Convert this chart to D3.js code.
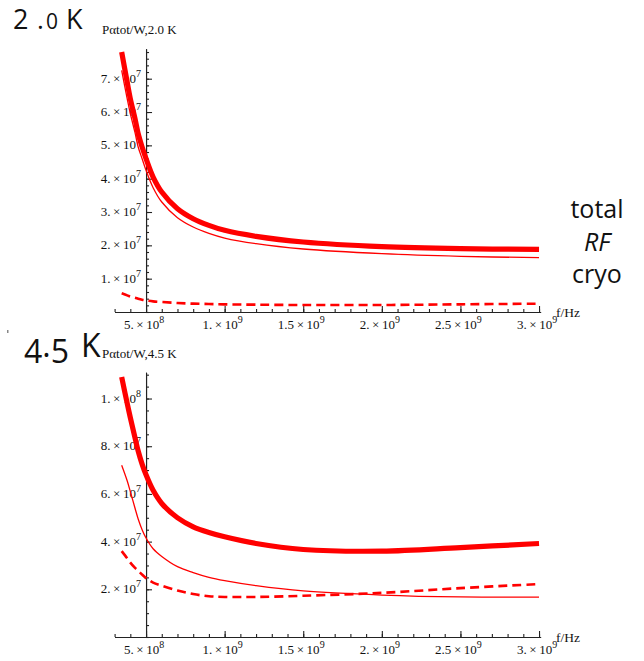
<!DOCTYPE html>
<html><head><meta charset="utf-8">
<script src="https://cdn.jsdelivr.net/npm/d3@7"></script>
<style>body{margin:0;background:#fff}svg{display:block}</style>
</head><body>
<svg id="c" width="644" height="661"></svg>
<script>
// ---------- data ----------
const freq    = [3.45e8, 3.8e8, 4.0e8, 4.3e8, 4.5e8, 4.75e8, 5.0e8, 5.45e8, 6.0e8, 7.0e8, 8.0e8, 9.0e8, 1.0e9, 1.2e9, 1.5e9, 2.0e9, 2.5e9, 3.0e9];
// 2.0 K
const total20 = [7.8e7, 6.9e7, 6.4e7, 5.8e7, 5.35e7, 4.95e7, 4.6e7, 4.05e7, 3.6e7, 3.1e7, 2.8e7, 2.6e7, 2.45e7, 2.27e7, 2.1e7, 1.96e7, 1.9e7, 1.88e7];
const rf20    = [7.25e7, 6.4e7, 5.95e7, 5.38e7, 4.95e7, 4.6e7, 4.25e7, 3.73e7, 3.3e7, 2.83e7, 2.55e7, 2.36e7, 2.22e7, 2.05e7, 1.89e7, 1.75e7, 1.67e7, 1.63e7];
const cryo20  = [5.6e6, 5.0e6, 4.6e6, 4.3e6, 4.0e6, 3.7e6, 3.5e6, 3.2e6, 3.0e6, 2.7e6, 2.5e6, 2.4e6, 2.3e6, 2.2e6, 2.1e6, 2.1e6, 2.3e6, 2.5e6];
// 4.5 K
const total45 = [1.09e8, 9.8e7, 9.2e7, 8.35e7, 7.8e7, 7.25e7, 6.8e7, 6.15e7, 5.6e7, 5.0e7, 4.62e7, 4.38e7, 4.2e7, 3.92e7, 3.67e7, 3.6e7, 3.75e7, 3.92e7];
const rf45    = [7.2e7, 6.55e7, 6.1e7, 5.4e7, 4.95e7, 4.5e7, 4.15e7, 3.7e7, 3.38e7, 2.95e7, 2.7e7, 2.5e7, 2.36e7, 2.15e7, 1.93e7, 1.76e7, 1.68e7, 1.67e7];
const cryo45  = [3.6e7, 3.3e7, 3.12e7, 2.9e7, 2.78e7, 2.62e7, 2.47e7, 2.28e7, 2.15e7, 1.95e7, 1.8e7, 1.71e7, 1.68e7, 1.68e7, 1.73e7, 1.85e7, 2.05e7, 2.22e7];

// tick labels
const xTickValues = [5e8, 1e9, 1.5e9, 2e9, 2.5e9, 3e9];
const xTickMant   = ["5.", "1.", "1.5", "2.", "2.5", "3."];
const xTickExp    = ["8", "9", "9", "9", "9", "9"];
const yTick20     = [1e7, 2e7, 3e7, 4e7, 5e7, 6e7, 7e7];
const yMant20     = ["1.", "2.", "3.", "4.", "5.", "6.", "7."];
const yExp20      = ["7", "7", "7", "7", "7", "7", "7"];
const yTick45     = [2e7, 4e7, 6e7, 8e7, 1e8];
const yMant45     = ["2.", "4.", "6.", "8.", "1."];
const yExp45      = ["7", "7", "7", "7", "8"];
const legendLabels = ["total", "RF", "cryo"];

// ---------- drawing ----------
const svg = d3.select("#c");
const RED = "#ff0000";
const AX = "#222";
const SERIF = "'Liberation Serif','DejaVu Serif',serif";
const SANS = "'Open Sans','Noto Sans',sans-serif";

const x = d3.scaleLinear().domain([3e8, 3.01e9]).range([114.6, 540.6]);

function supLabel(g, xx, yy, mant, exp, anchor) {
  const t = g.append("text").attr("x", xx).attr("y", yy)
    .attr("text-anchor", anchor).attr("font-family", SERIF)
    .attr("font-size", 13).attr("fill", "#111");
  t.append("tspan").text(mant + "\u2009\u00d7\u200910");
  t.append("tspan").attr("dy", -6).attr("font-size", 10).text(exp);
}

function panel(opt) {
  const g = svg.append("g");
  const y = d3.scaleLinear().domain([0, opt.yMax]).range([opt.y0, opt.yTop]);
  const ax0 = x(5e8);
  const xMinor = d3.range(3e8, 3.0001e9, 1e8);
  g.append("g").attr("transform", `translate(0,${opt.y0})`)
    .call(d3.axisTop(x).tickValues(xMinor).tickSize(3).tickSizeOuter(0).tickFormat(""));
  g.append("g").attr("transform", `translate(0,${opt.y0})`)
    .call(d3.axisTop(x).tickValues(xTickValues).tickSize(6).tickSizeOuter(0).tickFormat(""));
  const yMinor = d3.range(0, opt.yMax + 1, opt.minorStep);
  g.append("g").attr("transform", `translate(${ax0},0)`)
    .call(d3.axisRight(y).tickValues(yMinor).tickSize(3).tickSizeOuter(0).tickFormat(""));
  g.append("g").attr("transform", `translate(${ax0},0)`)
    .call(d3.axisRight(y).tickValues(opt.yTicks).tickSize(6).tickSizeOuter(0).tickFormat(""));
  g.selectAll(".domain, .tick line").attr("stroke", AX).attr("stroke-width", 1.1);

  xTickValues.forEach((v, i) => supLabel(g, x(v) - 2, opt.y0 + 17, xTickMant[i], xTickExp[i], "middle"));
  opt.yTicks.forEach((v, i) => supLabel(g, ax0 - 5, y(v) + 4, opt.yMant[i], opt.yExp[i], "end"));

  g.append("text").attr("x", 102).attr("y", opt.yLabelY).attr("font-family", SERIF)
    .attr("font-size", 13).attr("fill", "#111").text(opt.yLabel);
  g.append("text").attr("x", 556).attr("y", opt.y0 + 5).attr("font-family", SERIF)
    .attr("font-size", 13.5).attr("fill", "#111").text("f/Hz");

  const line = d3.line().x(d => x(d[0])).y(d => y(d[1])).curve(d3.curveCatmullRom.alpha(0.5));
  const mk = arr => freq.map((f, i) => [f, arr[i]]);
  g.append("path").attr("d", line(mk(opt.cryo))).attr("fill", "none")
    .attr("stroke", RED).attr("stroke-width", 2.6).attr("stroke-dasharray", "9,5");
  g.append("path").attr("d", line(mk(opt.rf))).attr("fill", "none")
    .attr("stroke", RED).attr("stroke-width", 1.3);
  g.append("path").attr("d", line(mk(opt.total))).attr("fill", "none")
    .attr("stroke", RED).attr("stroke-width", 5.2);
}

panel({ y0: 312, yTop: 48.7, yMax: 7.9e7, minorStep: 2e6, yTicks: yTick20, yMant: yMant20, yExp: yExp20,
        yLabel: "P\u03b1tot/W,2.0 K", yLabelY: 34, total: total20, rf: rf20, cryo: cryo20 });
panel({ y0: 637, yTop: 372.3, yMax: 1.11e8, minorStep: 5e6, yTicks: yTick45, yMant: yMant45, yExp: yExp45,
        yLabel: "P\u03b1tot/W,4.5 K", yLabelY: 358, total: total45, rf: rf45, cryo: cryo45 });

// big titles
const t1 = svg.append("text").attr("y", 29).attr("font-family", SANS).attr("font-size", 26).attr("fill", "#111");
t1.append("tspan").attr("x", 13).attr("font-size", 27).text("2");
t1.append("tspan").attr("x", 37).text(".");
t1.append("tspan").attr("x", 46).attr("font-size", 21).text("0");
t1.append("tspan").attr("x", 66).attr("font-size", 27).text("K");
const t2 = svg.append("text").attr("y", 357).attr("font-family", SANS).attr("font-size", 32).attr("fill", "#111");
t2.append("tspan").attr("x", 24).attr("dy", 6).text("4");
t2.append("tspan").attr("dy", -6).text(".");
t2.append("tspan").attr("dy", 6).text("5");
t2.append("tspan").attr("x", 81).attr("dy", -6).text("K");

// legend words
const legY = [218, 251, 283];
legendLabels.forEach((s, i) => {
  svg.append("text").attr("x", 597).attr("y", legY[i]).attr("text-anchor", "middle")
    .attr("font-family", SANS).attr("font-size", 25).attr("fill", "#111")
    .attr("font-style", s === "RF" ? "italic" : "normal").text(s);
});
svg.append("rect").attr("x", 7).attr("y", 330).attr("width", 1.5).attr("height", 3).attr("fill", "#888");
</script>
</body></html>
